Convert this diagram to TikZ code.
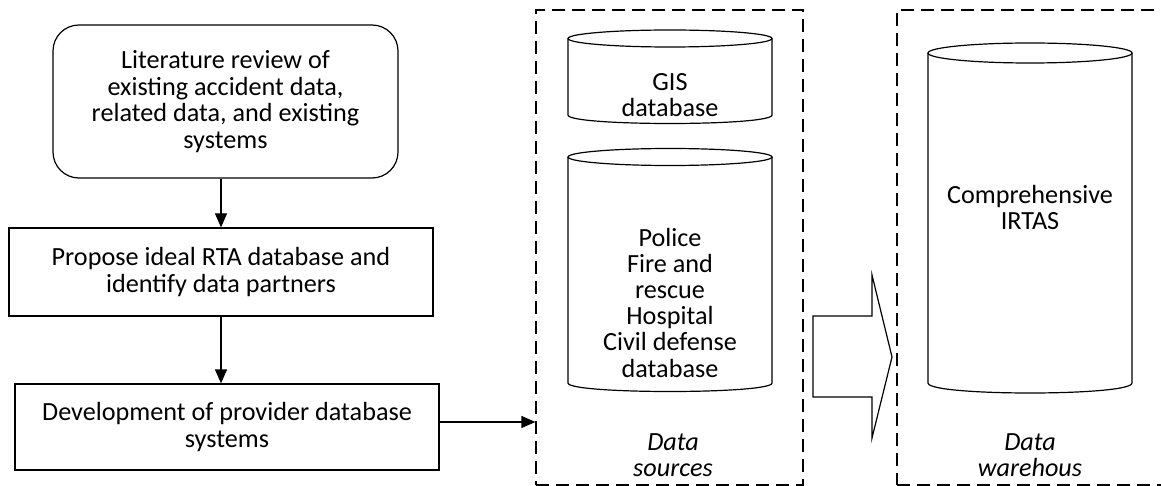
\documentclass[tikz,border=0pt]{standalone}
\usepackage{fontspec}
\setmainfont{Carlito}
\usetikzlibrary{arrows.meta}
\tikzset{
  base/.style={line width=1.2pt},
  procbox/.style={base, draw, rectangle, align=center, inner sep=0pt, font=\fontsize{26.2}{26.5}\selectfont},
  roundbox/.style={procbox, rounded corners=26pt},
  groupbox/.style={base, draw, rectangle, dash pattern=on 13pt off 7pt, inner sep=0pt},
  txt/.style={align=center, inner sep=0pt, font=\fontsize{26.2}{26.2}\selectfont},
  itxt/.style={txt, font=\fontsize{26.2}{26.2}\selectfont\itshape},
  conn/.style={base, -{Triangle[length=14pt,width=12pt]}},
  cyl/.style={base, draw, fill=white},
}
\newcommand{\cylinder}[5]{% cx, top y, bottom y, rx, ry
  \draw[cyl] ({#1-#4},#2) -- ({#1-#4},#3) .. controls ({#1-#4},{#3+1.333*#5}) and ({#1+#4},{#3+1.333*#5}) .. ({#1+#4},#3) -- ({#1+#4},#2);
  \draw[cyl] (#1,#2) ellipse [x radius=#4, y radius=#5];
}
\begin{document}
\begin{tikzpicture}[x=1pt,y=-1pt]
\useasboundingbox (0,0) rectangle (1161,486);

% left process
\node[roundbox, minimum width=345pt, minimum height=153pt] (lit) at (225.5,101.5)
  {Literature review of\\existing accident data,\\related data, and existing\\systems};
\node[procbox, minimum width=424pt, minimum height=88pt] (prop) at (221,272)
  {Propose ideal RTA database and\\identify data partners};
\node[procbox, minimum width=424pt, minimum height=86pt] (dev) at (227,427)
  {Development of provider database\\systems};

% dashed groups
\node[groupbox, minimum width=267pt, minimum height=475pt] (src) at (669.5,247.5) {};
\node[groupbox, minimum width=271pt, minimum height=475pt] (wh) at (1032.5,247.5) {};

% connectors
\draw[conn] (lit.south -| prop.north) -- (prop.north);
\draw[conn] (prop.south) -- (prop.south |- dev.north);
\draw[conn] ([yshift=5pt]dev.east) -- ([yshift=5pt]dev.east -| src.west);

% cylinders
\cylinder{670}{38.5}{115}{102}{8.5}
\cylinder{670}{157}{383}{102}{8.5}
\cylinder{1030}{53}{383}{102}{10}

\node[txt] (gis) at (670,95) {GIS\\database};
\node[txt] (prov) at (670,302.5) {Police\\Fire and\\rescue\\Hospital\\Civil defense\\database};
\node[txt] (irtas) at (1030,207.5) {Comprehensive\\IRTAS};

\node[itxt] (srclab) at (673,455) {Data\\sources};
\node[itxt] (whlab) at (1030,455) {Data\\warehous};

% block arrow
\draw[base] (813,316) -- (872,316) -- (872,275) -- (892,357) -- (872,438) -- (872,397) -- (813,397) -- cycle;
\end{tikzpicture}
\end{document}
